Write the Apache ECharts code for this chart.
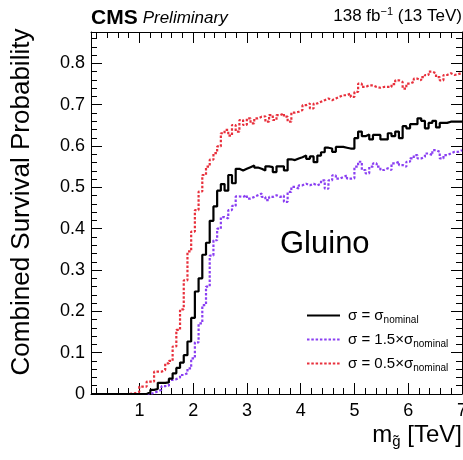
<!DOCTYPE html>
<html><head><meta charset="utf-8">
<script src="https://cdn.jsdelivr.net/npm/echarts@6/dist/echarts.min.js"></script>
<style>html,body{margin:0;padding:0;background:#fff}#c{width:463px;height:460px}</style>
</head><body><div id="c"></div>
<script>
// Histogram binning (gluino mass in TeV)
const binStart = 0.1;
const binWidth = 0.069;

// sigma = sigma_nominal (black, solid)
const sigmaNominal = [
0,0,0,0,0,0,0,0,0,0,
0,0,0,0,0,0.004,0.010,0.012,0.027,0.027,
0.028,0.037,0.050,0.063,0.076,0.094,0.127,0.184,0.248,0.280,
0.337,0.366,0.419,0.454,0.492,0.508,0.492,0.530,0.510,0.545,
0.541,0.545,0.549,0.553,0.548,0.545,0.541,0.551,0.549,0.537,
0.551,0.551,0.541,0.568,0.566,0.570,0.573,0.577,0.569,0.575,
0.561,0.577,0.585,0.596,0.594,0.586,0.598,0.598,0.596,0.594,
0.594,0.619,0.635,0.624,0.628,0.616,0.627,0.627,0.616,0.616,
0.631,0.624,0.635,0.619,0.648,0.643,0.653,0.653,0.667,0.661,
0.643,0.656,0.661,0.645,0.656,0.656,0.659,0.659,0.659,0.659
];
// sigma = 1.5 x sigma_nominal (purple, dotted)
const sigma15 = [
0,0,0,0,0,0,0,0,0,0,
0,0,0,0,0,0,0.003,0.006,0.010,0.019,
0.020,0.034,0.036,0.040,0.046,0.050,0.062,0.086,0.125,0.171,
0.215,0.260,0.335,0.372,0.400,0.428,0.425,0.445,0.455,0.478,
0.477,0.481,0.473,0.477,0.481,0.485,0.477,0.469,0.477,0.481,
0.477,0.480,0.465,0.489,0.501,0.497,0.505,0.509,0.505,0.509,
0.505,0.509,0.517,0.497,0.517,0.529,0.521,0.525,0.529,0.521,
0.522,0.550,0.562,0.542,0.534,0.550,0.558,0.550,0.542,0.546,
0.542,0.558,0.562,0.554,0.550,0.562,0.570,0.578,0.570,0.574,
0.582,0.578,0.590,0.586,0.570,0.578,0.582,0.586,0.586,0.590
];
// sigma = 0.5 x sigma_nominal (red, dotted)
const sigma05 = [
0,0,0,0,0,0,0,0,0,0,
0.001,0.002,0.005,0.018,0.018,0.030,0.030,0.054,0.054,0.058,
0.074,0.080,0.115,0.155,0.205,0.275,0.345,0.393,0.445,0.490,
0.530,0.550,0.567,0.583,0.599,0.631,0.639,0.625,0.651,0.635,
0.663,0.651,0.667,0.655,0.667,0.671,0.672,0.659,0.675,0.663,
0.675,0.679,0.671,0.659,0.681,0.683,0.687,0.699,0.703,0.691,
0.703,0.707,0.711,0.715,0.711,0.715,0.719,0.723,0.723,0.727,
0.719,0.731,0.751,0.743,0.747,0.747,0.743,0.741,0.743,0.743,
0.743,0.750,0.759,0.755,0.739,0.751,0.755,0.763,0.759,0.767,
0.772,0.780,0.776,0.767,0.759,0.772,0.776,0.772,0.774,0.777
];

const seriesNames = ['nominal', 'x1.5', 'x0.5'];
const legendLabels = {
  'nominal': '{a|σ = σ}{s|nominal}',
  'x1.5': '{a|σ = 1.5×σ}{s|nominal}',
  'x0.5': '{a|σ = 0.5×σ}{s|nominal}'
};
const xMin = 0.1, xMax = 7;
const yMin = 0, yMax = 0.876;
const xTickValues = [1, 2, 3, 4, 5, 6, 7];
const yTickValues = [0, 0.1, 0.2, 0.3, 0.4, 0.5, 0.6, 0.7, 0.8];

const FONT = 'Liberation Sans, Arial, Helvetica, sans-serif';

function minorTicks(from, to, step, majors) {
  const out = [];
  for (let v = from; v <= to + 1e-9; v += step) {
    const r = Math.round(v * 1000) / 1000;
    if (!majors.some(m => Math.abs(m - r) < 1e-6)) out.push(r);
  }
  return out;
}
const xMinor = minorTicks(0.2, 6.8, 0.2, xTickValues);
const yMinor = minorTicks(0.02, 0.86, 0.02, yTickValues);

function steps(vals) {
  const d = vals.map((v, i) => [Math.round((binStart + i * binWidth) * 10000) / 10000, v]);
  d.push([xMax, vals[vals.length - 1]]);
  return d;
}

function xAx(pos, major) {
  return {
    type: 'value', position: pos, min: xMin, max: xMax,
    axisLine: { show: major, onZero: false, lineStyle: { color: '#000', width: 1 } },
    axisTick: { show: true, inside: true, length: major ? 11 : 6, customValues: major ? xTickValues : xMinor,
      lineStyle: { color: '#000', width: 1 } },
    axisLabel: { show: pos === 'bottom' && major, customValues: xTickValues, fontSize: 18, color: '#000',
      fontFamily: FONT, margin: 8 },
    splitLine: { show: false }
  };
}
function yAx(pos, major) {
  return {
    type: 'value', position: pos, min: yMin, max: yMax,
    axisLine: { show: major, onZero: false, lineStyle: { color: '#000', width: 1 } },
    axisTick: { show: true, inside: true, length: major ? 11 : 6, customValues: major ? yTickValues : yMinor,
      lineStyle: { color: '#000', width: 1 } },
    axisLabel: { show: pos === 'left' && major, customValues: yTickValues, fontSize: 18, color: '#000',
      fontFamily: FONT, margin: 6 },
    splitLine: { show: false }
  };
}

const xAxes = [xAx('bottom', true), xAx('bottom', false), xAx('top', true), xAx('top', false)];
Object.assign(xAxes[0], {
  name: '{m|m}{s|g̃}{m| [TeV]}',
  nameLocation: 'end', nameGap: 0,
  nameTextStyle: {
    align: 'right', verticalAlign: 'top', padding: [28, 0, 0, 0], color: '#000',
    rich: {
      m: { fontSize: 24, fontFamily: FONT, color: '#000', lineHeight: 27 },
      s: { fontSize: 15, fontFamily: FONT, color: '#000', lineHeight: 10, verticalAlign: 'bottom' }
    }
  }
});
const yAxes = [yAx('left', true), yAx('left', false), yAx('right', true), yAx('right', false)];
Object.assign(yAxes[0], {
  name: 'Combined Survival Probability',
  nameLocation: 'middle', nameGap: 56,
  nameTextStyle: { fontSize: 26, fontFamily: FONT, color: '#000', padding: [0, 0, 0, 22] }
});

const colors = { 'nominal': '#000000', 'x1.5': '#8a3ff2', 'x0.5': '#e8303c' };

const option = {
  animation: false,
  backgroundColor: '#fff',
  grid: { left: 91, right: 1, top: 32, bottom: 66, containLabel: false, outerBoundsMode: 'none' },
  title: [
    { left: 91, top: 8, padding: 0,
      text: '{b|CMS} {i|Preliminary}',
      textStyle: { fontWeight: 'normal', rich: {
        b: { fontSize: 21, fontWeight: 'bold', fontFamily: FONT, color: '#000' },
        i: { fontSize: 17, fontStyle: 'italic', fontWeight: 'normal', fontFamily: FONT, color: '#000' } } } },
    { right: 1, top: 6, padding: 0,
      text: '{n|138 fb}{sup|−1}{n| (13 TeV)}',
      textStyle: { fontWeight: 'normal', rich: {
        n: { fontSize: 17, fontWeight: 'normal', fontFamily: FONT, color: '#000', lineHeight: 21 },
        sup: { fontSize: 11, fontWeight: 'normal', fontFamily: FONT, color: '#000', lineHeight: 13, verticalAlign: 'top' } } } }
  ],
  legend: {
    orient: 'vertical', left: 301, top: 303, itemWidth: 33, itemHeight: 12, itemGap: 6.5,
    data: seriesNames, selectedMode: false,
    itemStyle: { opacity: 0 },
    formatter: n => legendLabels[n],
    textStyle: { color: '#000', rich: {
      a: { fontSize: 15, fontFamily: FONT, color: '#000', lineHeight: 20, padding: [0, 0, 0, 3] },
      s: { fontSize: 10, fontFamily: FONT, color: '#000', lineHeight: 8, verticalAlign: 'bottom' } } }
  },
  xAxis: xAxes,
  yAxis: yAxes,
  graphic: [
    { type: 'text', left: 280, top: 229, style: { text: 'Gluino', fontSize: 31, fontFamily: FONT, fill: '#000' } }
  ],
  series: [
    { name: 'nominal', type: 'line', step: 'end', data: steps(sigmaNominal), symbol: 'none', z: 5,
      color: colors['nominal'], lineStyle: { color: colors['nominal'], width: 2.2, type: 'solid' } },
    { name: 'x1.5', type: 'line', step: 'end', data: steps(sigma15), symbol: 'none', z: 4,
      color: colors['x1.5'], lineStyle: { color: colors['x1.5'], width: 2.2, type: [2.5, 1.8] } },
    { name: 'x0.5', type: 'line', step: 'end', data: steps(sigma05), symbol: 'none', z: 3,
      color: colors['x0.5'], lineStyle: { color: colors['x0.5'], width: 2.2, type: [2.5, 1.8] } }
  ]
};

const chart = echarts.init(document.getElementById('c'), null, { renderer: 'canvas' });
chart.setOption(option);
</script>
</body></html>
